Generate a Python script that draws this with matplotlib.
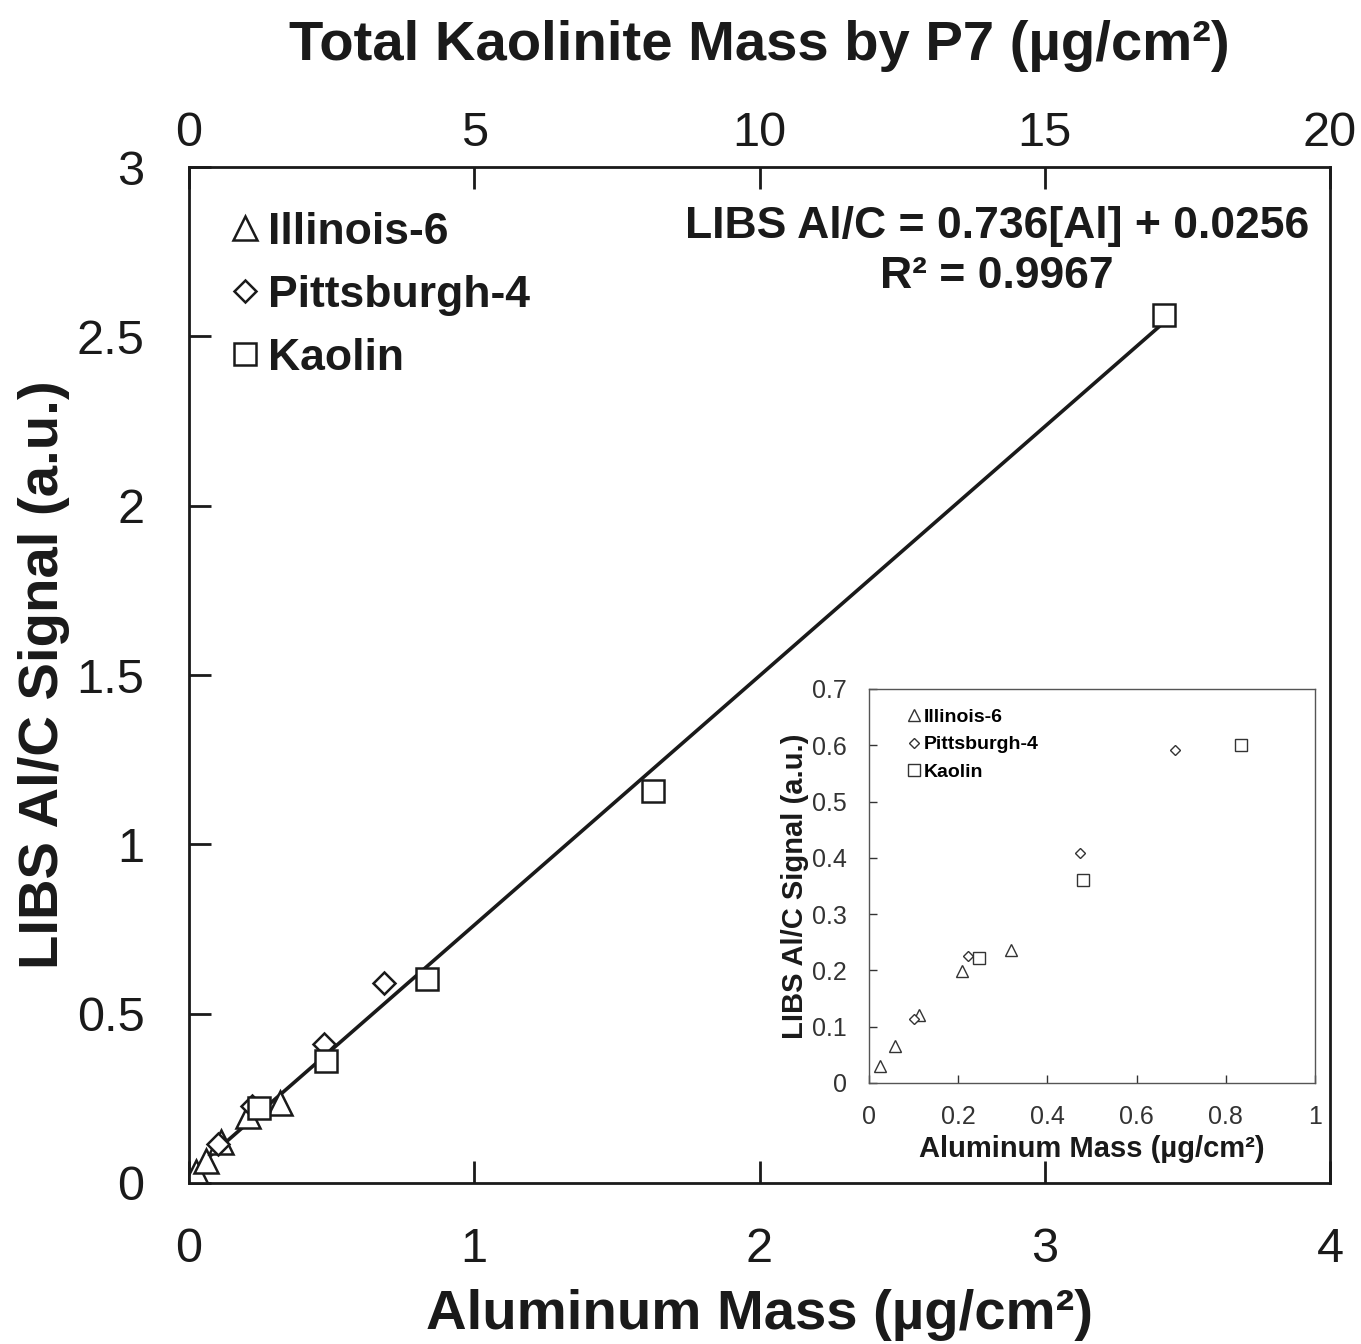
import matplotlib
matplotlib.use("Agg")
import matplotlib.pyplot as plt

plt.rcParams['font.family'] = ['Liberation Sans', 'DejaVu Sans']

# aluminum mass (ug/cm2) and LIBS Al/C signal for each sample set
illinois_al = [0.025, 0.058, 0.113, 0.208, 0.318]
illinois_sig = [0.031, 0.065, 0.120, 0.199, 0.237]

pitts_al = [0.101, 0.222, 0.472, 0.685]
pitts_sig = [0.114, 0.226, 0.409, 0.592]

kaolin_al = [0.247, 0.480, 0.833, 1.627, 3.418]
kaolin_sig = [0.222, 0.361, 0.601, 1.157, 2.563]

# linear fit reported for the full data set
slope = 0.736
intercept = 0.0256
r_squared = 0.9967
fit_range = [0.0, 3.418]

# kaolinite mass = 5 x aluminum mass
kaolinite_factor = 5.0

ink = '#1a1a1a'

fig = plt.figure(figsize=(13.61, 13.44), dpi=100)
ax = fig.add_axes([0.1389, 0.1198, 0.8383, 0.7559])

mk = dict(linestyle='none', markerfacecolor='white', markeredgecolor=ink, markeredgewidth=1.8)
ax.plot(illinois_al, illinois_sig, marker='^', markersize=17, label='Illinois-6', **mk)
ax.plot(pitts_al, pitts_sig, marker='D', markersize=11, label='Pittsburgh-4', **mk)
ax.plot(kaolin_al, kaolin_sig, marker='s', markersize=16, label='Kaolin', **mk)

fx = fit_range
fy = [slope * v + intercept for v in fx]
ax.plot(fx, fy, color=ink, linewidth=2.6, zorder=1)

ax.set_xlim(0, 4)
ax.set_ylim(0, 3)
ax.set_xticks([0, 1, 2, 3, 4])
ax.set_yticks([0, 0.5, 1, 1.5, 2, 2.5, 3])
ax.set_yticklabels(['0', '0.5', '1', '1.5', '2', '2.5', '3'])
ax.tick_params(direction='in', length=16, width=2, labelsize=35, colors=ink)
ax.tick_params(axis='x', pad=32)
ax.tick_params(axis='y', pad=32)
for s in ax.spines.values():
    s.set_linewidth(2)
    s.set_color(ink)

ax.set_xlabel('Aluminum Mass (µg/cm²)', fontsize=40.5, fontweight='bold', labelpad=12, color=ink)
ax.set_ylabel('LIBS Al/C Signal (a.u.)', fontsize=40.5, fontweight='bold', labelpad=5, color=ink)

# top axis: kaolinite mass
top = ax.secondary_xaxis('top', functions=(lambda v: v * kaolinite_factor, lambda v: v / kaolinite_factor))
top.set_xticks([0, 5, 10, 15, 20])
top.tick_params(direction='in', length=16, width=2, labelsize=35, pad=8, colors=ink)
top.set_xlabel('Total Kaolinite Mass by P7 (µg/cm²)', fontsize=40.5, fontweight='bold', labelpad=37, color=ink)

leg = ax.legend(loc='upper left', bbox_to_anchor=(-0.015, 1.0), frameon=False,
                prop={'weight': 'bold', 'size': 32}, handletextpad=-0.13, handlelength=1.3,
                labelspacing=0.5, borderaxespad=0.6)
for t in leg.get_texts():
    t.set_color(ink)

ax.text(0.708, 0.917, f'LIBS Al/C = {slope}[Al] + {intercept}\nR² = {r_squared}',
        transform=ax.transAxes, ha='center', va='center', fontsize=32, fontweight='bold',
        linespacing=1.3, color=ink)

# inset: zoom on the low-mass region
ins = fig.add_axes([0.6385, 0.1942, 0.3277, 0.2932])
mk2 = dict(linestyle='none', markerfacecolor='white', markeredgecolor='#333333', markeredgewidth=1.0)
ins.plot(illinois_al, illinois_sig, marker='^', markersize=8, label='Illinois-6', **mk2)
ins.plot(pitts_al, pitts_sig, marker='D', markersize=5.5, label='Pittsburgh-4', **mk2)
ins.plot(kaolin_al, kaolin_sig, marker='s', markersize=8, label='Kaolin', **mk2)
ins.set_xlim(0, 1)
ins.set_ylim(0, 0.7)
ins.set_xticks([0, 0.2, 0.4, 0.6, 0.8, 1])
ins.set_xticklabels(['0', '0.2', '0.4', '0.6', '0.8', '1'])
ins.set_yticks([0, 0.1, 0.2, 0.3, 0.4, 0.5, 0.6, 0.7])
ins.set_yticklabels(['0', '0.1', '0.2', '0.3', '0.4', '0.5', '0.6', '0.7'])
ins.tick_params(direction='in', length=6, width=1, labelsize=18, pad=16, colors='#333333')
for s in ins.spines.values():
    s.set_linewidth(1)
    s.set_color('#555555')
ins.set_xlabel('Aluminum Mass (µg/cm²)', fontsize=21, fontweight='bold', labelpad=4, color=ink)
ins.set_ylabel('LIBS Al/C Signal (a.u.)', fontsize=21, fontweight='bold', labelpad=2, color=ink)
ileg = ins.legend(loc='upper left', bbox_to_anchor=(0.04, 0.995), frameon=False,
                  prop={'weight': 'bold', 'size': 14}, handletextpad=0.0, handlelength=1.0,
                  labelspacing=0.5)

fig.savefig('out.png', dpi=100)
